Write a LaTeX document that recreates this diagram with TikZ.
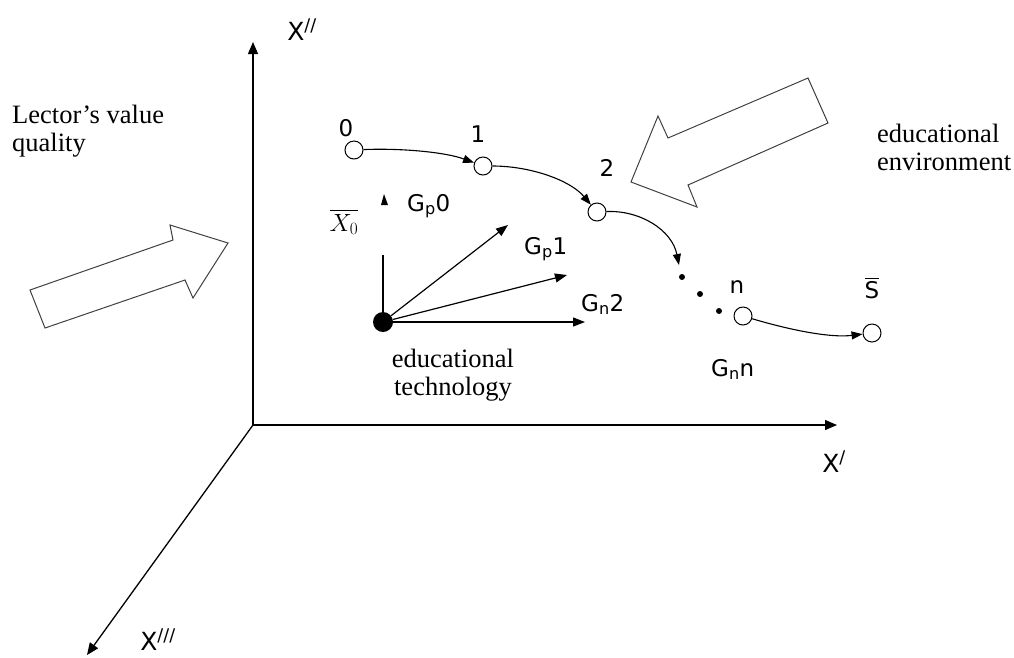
\documentclass[tikz,border=0pt]{standalone}
\usepackage{amsmath}
\usepackage{fontspec}
\setmainfont{Liberation Serif}
\newfontfamily\lblfont{DejaVu Sans}
\usetikzlibrary{arrows.meta}

\tikzset{
        state/.style={circle,draw,line width=1pt,minimum size=18pt,inner sep=0pt},
        dotmark/.style={circle,fill,inner sep=0pt,minimum size=6pt},
        lbl/.style={font=\lblfont\fontsize{23}{27}\selectfont,inner sep=0pt},
        axlbl/.style={font=\lblfont\fontsize{25}{29}\selectfont,inner sep=0pt},
        txt/.style={font=\fontsize{26.5}{28}\selectfont,inner sep=0pt},
        axis/.style={line width=1.3pt,-{Triangle[length=12pt,width=10pt]}},
        vec/.style={line width=1.2pt,-{Triangle[length=12pt,width=9pt]}},
        flow/.style={line width=1.1pt,-{Triangle[length=11pt,width=8pt]}},
        blockarrow/.style={draw=black!75,line width=1pt}
}

\begin{document}
\begin{tikzpicture}[x=1pt,y=-1pt]
        \useasboundingbox (0,0) rectangle (1014,657);

        \coordinate (O) at (253,425);
        \coordinate (ytip) at (253,42);
        \coordinate (xtip) at (837,425);
        \coordinate (ztip) at (87,655);
        \draw[axis] (O) -- (ytip);
        \draw[axis] (O) -- (xtip);
        \draw[axis] (O) -- (ztip);

        \node[axlbl] (ylbl) at (302,30) {X\textsuperscript{//}};
        \node[axlbl] (xlbl) at (834,462) {X\textsuperscript{/}};
        \node[axlbl] (zlbl) at (158,640) {X\textsuperscript{///}};

        \draw[blockarrow] (30,290) -- (173,240) -- (170,225) -- (228,243)
                -- (193,298) -- (185,280) -- (45,328) -- cycle;
        \draw[blockarrow] (631,182) -- (658,116) -- (668,138) -- (808,78)
                -- (828,123) -- (688,185) -- (697,207) -- cycle;

        \node[txt,align=left,anchor=north west] (lector) at (12,105) {Lector’s value\\quality};
        \node[txt,align=left,anchor=north west] (env) at (877,124) {educational\\environment};
        \node[txt,align=center,anchor=north] (tech) at (453,349) {educational\\technology};

        \node[state] (n0) at (354,150) {};
        \node[state] (n1) at (483,166) {};
        \node[state] (n2) at (597,212) {};
        \node[state] (nn) at (743,316) {};
        \node[state] (nS) at (872,333) {};
        \coordinate (d1) at (679,265);

        \node[lbl] (l0) at (346,128) {0};
        \node[lbl] (l1) at (478,134) {1};
        \node[lbl] (l2) at (607,168) {2};
        \node[lbl] (ln) at (737,287) {n};
        \node[lbl] (lS) at (872,288) {$\overline{\text{S}}$};

        \draw[flow] (n0) .. controls (400,148) and (445,152) .. (n1);
        \draw[flow] (n1) .. controls (530,166) and (570,180) .. (n2);
        \draw[flow] (n2) .. controls (640,210) and (672,230) .. (d1);
        \draw[flow] (nn) .. controls (790,330) and (830,338) .. (nS);

        \node[dotmark] (p1) at (682,277) {};
        \node[dotmark] (p2) at (700,294) {};
        \node[dotmark] (p3) at (719,311) {};

        \node[circle,fill,inner sep=0pt,minimum size=20pt] (src) at (383,322) {};
        \coordinate (v0) at (383,255);
        \coordinate (v1) at (508,225);
        \coordinate (v2) at (567,275);
        \coordinate (v3) at (585,322);
        \draw[line width=1.2pt] (src) -- (v0);
        \fill (381,205) -- (384,194) -- (388,205) -- cycle;
        \draw[vec] (src) -- (v1);
        \draw[vec] (src) -- (v2);
        \draw[vec] (src) -- (v3);

        \node[font=\fontsize{26}{30}\selectfont,inner sep=0pt] (xbar) at (344,222) {$\overline{X_{0}}$};
        \node[lbl,anchor=base west] (g0) at (407,211) {G\textsubscript{p}0};
        \node[lbl,anchor=base west] (g1) at (524,254) {G\textsubscript{p}1};
        \node[lbl,anchor=base west] (g2) at (581,311) {G\textsubscript{n}2};
        \node[lbl,anchor=base west] (gn) at (711,376) {G\textsubscript{n}n};
\end{tikzpicture}
\end{document}
